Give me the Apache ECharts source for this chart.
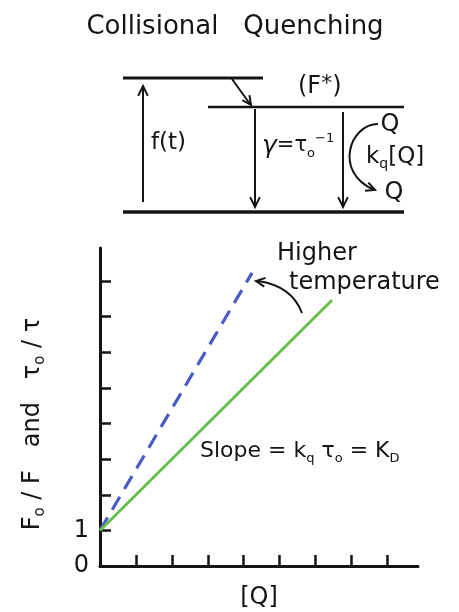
<!DOCTYPE html>
<html>
<head>
<meta charset="utf-8">
<script src="https://cdn.jsdelivr.net/npm/echarts@6/dist/echarts.min.js"></script>
<style>
  html, body { margin: 0; padding: 0; background: #fff; }
  #chart { width: 459px; height: 612px; }
</style>
</head>
<body>
<div id="chart"></div>
<script>
// data
var greenQ = [0, 6.46];
var greenRatio = [1, 7.47];
var blueQ = [0, 4.23];
var blueRatio = [1, 8.23];
var xTickValues = [1, 2, 3, 4, 5, 6, 7, 8];
var yTickValues = [1, 2, 3, 4, 5, 6, 7, 8];
var yLabelValues = [0, 1];

var INK = '#141414';
var GREEN = '#62be48';
var BLUE = '#4a5ac6';
var FONT = 'DejaVu Sans';

function pairs(xs, ys) {
    var out = [];
    for (var i = 0; i < xs.length; i++) out.push([xs[i], ys[i]]);
    return out;
}

// open V arrow head, angle = direction of travel in degrees
function head(x, y, angle, size, w) {
    var a = angle * Math.PI / 180, s = 26 * Math.PI / 180;
    return {
        type: 'polyline',
        shape: { points: [
            [x - size * Math.cos(a - s), y - size * Math.sin(a - s)],
            [x, y],
            [x - size * Math.cos(a + s), y - size * Math.sin(a + s)]
        ] },
        style: { stroke: INK, lineWidth: w || 2, fill: null }
    };
}

function seg(x1, y1, x2, y2, w) {
    return { type: 'line', shape: { x1: x1, y1: y1, x2: x2, y2: y2 }, style: { stroke: INK, lineWidth: w } };
}

function txt(x, y, text, size, align, rich, color) {
    return {
        type: 'text', x: x, y: y,
        style: {
            text: text, fontSize: size, fontFamily: FONT, fill: color || INK,
            align: align || 'left', verticalAlign: 'middle', rich: rich
        }
    };
}

var subRich = {
    n: { fontSize: 22, fontFamily: FONT, lineHeight: 28, color: INK },
    s: { fontSize: 13, fontFamily: FONT, lineHeight: 15, color: INK, verticalAlign: 'bottom' }
};

var diagram = [
    txt(235, 27, 'Collisional   Quenching', 26, 'center'),
    // energy levels
    seg(123, 78, 263, 78, 3),
    seg(208, 107, 404, 107, 2.5),
    seg(123, 212, 404, 212, 3.5),
    // excitation
    seg(143, 202, 143, 87, 2),
    head(143, 86, -90, 11),
    txt(151, 143, 'f(t)', 23, 'left'),
    // relaxation to F*
    seg(232, 79, 250, 104, 2),
    head(251, 105, 55, 10),
    // radiative decay
    seg(255, 109, 255, 206, 2),
    head(255, 207, 90, 11),
    txt(262, 146, '{g|γ}{n|=τ}{s|o}{p|−1}', 22, 'left', {
        g: { fontSize: 25, fontFamily: FONT, lineHeight: 28, color: INK, fontStyle: 'italic' },
        n: { fontSize: 21, fontFamily: FONT, lineHeight: 28, color: INK },
        s: { fontSize: 13, fontFamily: FONT, lineHeight: 15, color: INK, verticalAlign: 'bottom' },
        p: { fontSize: 13, fontFamily: FONT, lineHeight: 15, color: INK, verticalAlign: 'top' }
    }),
    // quenching decay
    seg(343, 112, 343, 206, 2),
    head(343, 207, 90, 11),
    {
        type: 'bezierCurve',
        shape: { x1: 378, y1: 124, cpx1: 350, cpy1: 124, cpx2: 333, cpy2: 172, x2: 374, y2: 190 },
        style: { stroke: INK, lineWidth: 2, fill: null }
    },
    head(375, 190, 22, 10),
    txt(390, 125, 'Q', 24, 'center'),
    txt(366, 157, '{n|k}{s|q}{n|[Q]}', 22, 'left', {
        n: { fontSize: 23, fontFamily: FONT, lineHeight: 28, color: INK },
        s: { fontSize: 14, fontFamily: FONT, lineHeight: 15, color: INK, verticalAlign: 'bottom' }
    }),
    txt(394, 193, 'Q', 24, 'center'),
    txt(298, 87, '{p|(}{g|F}{st|*}{p|)}', 24, 'left', {
        p: { fontSize: 24, fontFamily: FONT, lineHeight: 28, color: INK },
        g: { fontSize: 24, fontFamily: FONT, lineHeight: 28, color: GREEN },
        st: { fontSize: 22, fontFamily: FONT, lineHeight: 20, color: GREEN, verticalAlign: 'top' }
    })
];

var notes = [
    txt(277, 254, 'Higher', 24, 'left'),
    txt(289, 283, 'temperature', 24, 'left'),
    {
        type: 'bezierCurve',
        shape: { x1: 302, y1: 313, cpx1: 292, cpy1: 286, x2: 258, y2: 281 },
        style: { stroke: INK, lineWidth: 2, fill: null }
    },
    head(256, 281, 188, 10),
    txt(200, 451, '{n|Slope = k}{s|q}{n| τ}{s|o}{n| = K}{s|D}', 22, 'left', subRich),
    // y axis title
    {
        type: 'text', x: 33, y: 424, rotation: Math.PI / 2,
        style: {
            text: '{n|F}{s|o}{n| / F   and   τ}{s|o}{n| / τ}',
            align: 'center', verticalAlign: 'middle', fill: INK,
            rich: {
                n: { fontSize: 24, fontFamily: FONT, lineHeight: 30, color: INK },
                s: { fontSize: 15, fontFamily: FONT, lineHeight: 16, color: INK, verticalAlign: 'bottom' }
            }
        }
    }
];

var chart = echarts.init(document.getElementById('chart'));

var option = {
    animation: false,
    backgroundColor: '#fff',
    grid: { left: 100, right: 41, top: 248, bottom: 46, outerBoundsMode: 'none', containLabel: false },
    xAxis: {
        type: 'value', min: 0, max: 8.85,
        name: '[Q]', nameLocation: 'middle', nameGap: 20,
        nameTextStyle: { fontSize: 24, fontFamily: FONT, color: INK },
        axisLine: { lineStyle: { color: INK, width: 3 } },
        axisTick: { show: true, inside: true, length: 11, customValues: xTickValues, lineStyle: { color: INK, width: 2.5 } },
        axisLabel: { show: false },
        splitLine: { show: false }
    },
    yAxis: {
        type: 'value', min: 0, max: 8.93,
        axisLine: { lineStyle: { color: INK, width: 3 } },
        axisTick: { show: true, inside: true, length: 11, customValues: yTickValues, lineStyle: { color: INK, width: 2.5 } },
        axisLabel: { show: true, customValues: yLabelValues, margin: 11, fontSize: 24, fontFamily: FONT, color: INK },
        splitLine: { show: false }
    },
    series: [
        {
            name: 'higher temperature', type: 'line', showSymbol: false,
            data: pairs(blueQ, blueRatio),
            lineStyle: { color: BLUE, width: 3.2, type: [15, 9] }
        },
        {
            name: 'Stern-Volmer', type: 'line', showSymbol: false,
            data: pairs(greenQ, greenRatio),
            lineStyle: { color: GREEN, width: 2.8 }
        }
    ],
    graphic: diagram.concat(notes)
};

chart.setOption(option);
</script>
</body>
</html>
